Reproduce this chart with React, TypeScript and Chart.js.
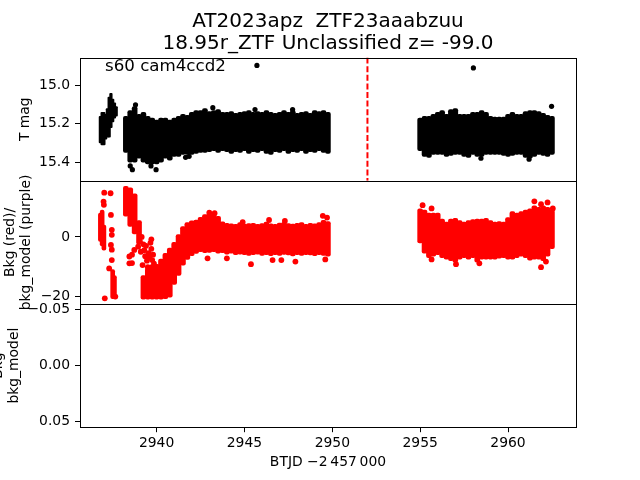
import React, { useEffect, useRef } from "react";
import { Chart, registerables } from "chart.js";

Chart.register(...registerables);

const FONT_FAMILY = '"DejaVu Sans", sans-serif';
const TICK_SIZE = 13.9;

// ---------- text ----------
const TITLE_LINES = ["AT2023apz  ZTF23aaabzuu", "18.95r_ZTF Unclassified z= -99.0"];
const SECTOR_LABEL = "s60 cam4ccd2";
const Y1_LABEL = ["T mag"];
const Y2_LABEL = ["Bkg (red)/", "bkg_model (purple)"];
const Y3_LABEL = ["Bkg", "bkg_model"];
const X_LABEL = "BTJD \u22122\u2009457\u2009000";

// ---------- axes ----------
const X_MIN = 2935.64;
const X_MAX = 2963.87;
const X_TICKS = [2940, 2945, 2950, 2955, 2960];

const Y1_MIN = 14.853;
const Y1_MAX = 15.498;
const Y1_TICKS = [15.0, 15.2, 15.4];

const Y2_MIN = -22.6;
const Y2_MAX = 18.9;
const Y2_TICKS = [0, -20];

const Y3_MIN = -0.055;
const Y3_MAX = 0.055;
const Y3_TICKS = [-0.05, 0, 0.05];

const VLINE_DAY = 2952.0;

// ---------- time bins (days) for the dense bands ----------
const BIN_DAY = [
  2938.25, 2938.5, 2938.75, 2939, 2939.25, 2939.5, 2939.75, 2940, 2940.25, 2940.5,
  2940.75, 2941, 2941.25, 2941.5, 2941.75, 2942, 2942.25, 2942.5, 2942.75, 2943,
  2943.25, 2943.5, 2943.75, 2944, 2944.25, 2944.5, 2944.75, 2945, 2945.25, 2945.5,
  2945.75, 2946, 2946.25, 2946.5, 2946.75, 2947, 2947.25, 2947.5, 2947.75, 2948,
  2948.25, 2948.5, 2948.75, 2949, 2949.25, 2949.5, 2949.75,
  2955, 2955.25, 2955.5, 2955.75, 2956, 2956.25, 2956.5, 2956.75, 2957, 2957.25,
  2957.5, 2957.75, 2958, 2958.25, 2958.5, 2958.75, 2959, 2959.25, 2959.5, 2959.75,
  2960, 2960.25, 2960.5, 2960.75, 2961, 2961.25, 2961.5, 2961.75, 2962, 2962.25, 2962.5,
];

// ---------- panel 1: T mag band (bright edge / faint edge) ----------
const MAG_BIN_BRIGHT = [
  15.16, 15.13, 15.11, 15.15, 15.14, 15.16, 15.17, 15.18, 15.17, 15.17,
  15.18, 15.17, 15.16, 15.15, 15.155, 15.14, 15.13, 15.13, 15.12, 15.135,
  15.13, 15.125, 15.14, 15.14, 15.135, 15.145, 15.14, 15.135, 15.13, 15.14,
  15.135, 15.14, 15.13, 15.14, 15.145, 15.14, 15.13, 15.14, 15.13, 15.145,
  15.14, 15.135, 15.145, 15.13, 15.135, 15.13, 15.14,
  15.17, 15.16, 15.16, 15.15, 15.14, 15.13, 15.15, 15.125, 15.12, 15.15,
  15.15, 15.15, 15.14, 15.14, 15.13, 15.14, 15.16, 15.165, 15.165, 15.165,
  15.15, 15.14, 15.15, 15.15, 15.135, 15.13, 15.13, 15.135, 15.145, 15.155, 15.16,
];
const MAG_BIN_FAINT = [
  15.35, 15.40, 15.40, 15.38, 15.40, 15.41, 15.41, 15.41, 15.40, 15.38,
  15.39, 15.37, 15.37, 15.36, 15.36, 15.36, 15.355, 15.35, 15.35, 15.345,
  15.34, 15.35, 15.34, 15.345, 15.355, 15.345, 15.35, 15.34, 15.355, 15.345,
  15.35, 15.34, 15.355, 15.36, 15.345, 15.35, 15.34, 15.355, 15.345, 15.35,
  15.34, 15.355, 15.345, 15.35, 15.34, 15.35, 15.355,
  15.34, 15.37, 15.375, 15.36, 15.36, 15.36, 15.37, 15.365, 15.36, 15.36,
  15.37, 15.375, 15.36, 15.37, 15.37, 15.36, 15.36, 15.36, 15.36, 15.365,
  15.37, 15.365, 15.36, 15.36, 15.375, 15.38, 15.37, 15.36, 15.365, 15.37, 15.36,
];

const MAG_BLOB_DAY = [2936.8, 2936.9, 2937.0, 2937.1, 2937.2, 2937.3, 2937.4, 2937.5, 2937.6, 2937.7];
const MAG_BLOB_BRIGHT = [15.16, 15.14, 15.14, 15.15, 15.12, 15.06, 15.04, 15.07, 15.09, 15.11];
const MAG_BLOB_FAINT = [15.30, 15.31, 15.31, 15.28, 15.27, 15.27, 15.22, 15.19, 15.17, 15.16];

const MAG_PT_DAY = [
  2945.71, 2958.03, 2962.48, 2941.65, 2941.85, 2938.5, 2938.62, 2939.68, 2939.97,
  2945.6, 2947.74, 2958.46, 2961.2, 2938.8, 2943.2,
];
const MAG_PT_MAG = [
  14.894, 14.907, 15.108, 15.375, 15.37, 15.42, 15.44, 15.42, 15.44,
  15.125, 15.125, 15.38, 15.385, 15.10, 15.115,
];

// ---------- panel 2: background (high edge / low edge) ----------
const BKG_BIN_HI = [
  17.0, 16.5, 14.5, 5.5, -13.0, -10.5, -9.3, -9.2, -7.5, -5.5,
  -3.8, -1.8, 0.8, 3.5, 4.8, 5.4, 5.7, 6.6, 7.5, 8.0,
  7.6, 6.9, 5.1, 4.6, 4.4, 4.2, 4.8, 4.3, 4.5, 4.6,
  4.2, 4.5, 5.0, 4.4, 4.2, 4.7, 4.9, 4.5, 4.3, 4.6,
  4.8, 4.2, 4.6, 4.4, 4.8, 5.6, 5.2,
  9.5, 9.0, 8.0, 8.0, 8.0, 6.0, 5.0, 6.0, 6.3, 5.5,
  5.0, 5.5, 5.8, 6.0, 6.0, 6.3, 5.5, 5.0, 5.2, 5.0,
  6.5, 8.5, 8.0, 8.5, 9.0, 9.5, 10.5, 10.0, 10.5, 10.0, 9.0,
];
const BKG_BIN_LO = [
  7.0, 3.5, 1.0, -2.5, -21.0, -21.0, -21.0, -21.0, -21.0, -20.8,
  -20.3, -16.0, -13.0, -9.5, -7.6, -6.3, -5.6, -5.0, -5.3, -5.2,
  -5.0, -5.5, -5.3, -5.8, -5.5, -6.0, -5.8, -6.0, -6.2, -6.0,
  -5.8, -6.2, -6.0, -6.3, -6.0, -6.2, -5.9, -6.1, -6.4, -6.0,
  -6.2, -6.0, -6.1, -6.3, -6.0, -6.2, -6.5,
  -2.0, -5.5, -7.0, -6.5, -6.0, -7.0, -7.5, -8.0, -8.5, -7.5,
  -7.0, -7.5, -7.0, -8.5, -7.5, -7.5, -7.5, -7.5, -7.2, -7.0,
  -7.5, -7.5, -7.0, -6.5, -7.0, -7.8, -7.5, -7.5, -8.0, -6.5, -4.0,
];

const BKG_BLOB_DAY = [2936.8, 2936.9, 2937.0, 2937.5, 2937.6];
const BKG_BLOB_HI = [8.0, 9.0, 4.0, -11.0, -13.0];
const BKG_BLOB_LO = [-1.5, -3.0, -4.5, -20.8, -20.5];

const BKG_PT_DAY = [
  2937.02, 2937.38, 2936.98, 2937.0, 2937.4, 2937.45, 2937.45, 2937.4, 2937.45, 2937.45,
  2937.3, 2937.05, 2937.65,
  2938.45, 2938.45, 2938.73, 2938.95, 2939.05, 2939.1, 2939.15, 2939.2, 2939.25, 2939.3,
  2939.35, 2939.4, 2939.45, 2939.5, 2939.55, 2939.6, 2939.65, 2939.7, 2939.7, 2939.75,
  2939.8, 2939.8, 2939.85, 2939.6, 2938.6, 2938.6,
  2942.9, 2944.0, 2945.37, 2946.6, 2947.1, 2947.9, 2949.6, 2946.4, 2949.46, 2949.7,
  2944.9, 2947.3, 2943.0, 2943.3,
  2955.14, 2955.65, 2961.5, 2961.88, 2962.25, 2962.55, 2961.88, 2962.16, 2957.04, 2958.37,
  2955.65,
];
const BKG_PT_VAL = [
  14.9, 14.7, 11.9, 10.8, 7.4, 2.4, 0.7, -2.7, -4.3, -7.8,
  -10.6, -20.7, -20.1,
  -6.6, -8.9, -4.4, -3.3, -1.5, -5.0, 0.0, -9.5, -2.5, -4.5,
  -6.5, -3.0, -8.0, -10.2, -5.5, -7.0, -2.0, -0.8, -4.0, -7.8,
  -11.1, -6.0, -9.0, -11.7, -6.0, -8.8,
  -7.2, -7.2, -9.2, -7.8, -7.8, -8.3, -7.6, 5.7, 7.1, 6.5,
  5.0, 5.4, 8.2, 8.0,
  10.7, 9.6, 12.0, 11.0, 11.6, 9.6, -10.2, -8.3, -9.2, -8.9,
  -7.6,
];

// ---------- layout ----------
const PANEL_LEFT = 80;
const PANEL_RIGHT = 576;
const PANEL_TOPS = [57.6, 180.8, 304];
const PANEL_BOTTOMS = [180.8, 304, 427.2];
const X_AXIS_H = 40;

const font = (size: number) => ({ family: FONT_FAMILY, size });
const minus = (s: string) => s.replace("-", "\u2212");

const bandData = (days: number[], a: number[], b: number[]) =>
  days.map((d, i) => ({ x: d, y: [b[i], a[i]] }));
const ptData = (days: number[], v: number[]) => days.map((d, i) => ({ x: d, y: v[i] }));

function xScale(show: boolean) {
  return {
    type: "linear",
    min: X_MIN,
    max: X_MAX,
    offset: false,
    display: show,
    afterBuildTicks: (s: any) => {
      s.ticks = X_TICKS.map((v) => ({ value: v }));
    },
    afterFit: (s: any) => {
      if (show) s.height = X_AXIS_H;
    },
    ticks: {
      autoSkip: false,
      maxRotation: 0,
      color: "#000",
      font: font(TICK_SIZE),
      padding: 3,
      callback: (v: any) => String(v),
    },
    grid: {
      display: true,
      drawOnChartArea: false,
      drawTicks: true,
      tickLength: 5,
      color: "#000",
      lineWidth: 1,
      offset: false,
    },
    border: { display: false },
  };
}

function yScale(min: number, max: number, reverse: boolean, ticks: number[], fmt: (v: number) => string) {
  return {
    type: "linear",
    min,
    max,
    reverse,
    afterBuildTicks: (s: any) => {
      s.ticks = ticks.map((v) => ({ value: v }));
    },
    afterFit: (s: any) => {
      s.width = PANEL_LEFT;
    },
    ticks: {
      autoSkip: false,
      color: "#000",
      font: font(TICK_SIZE),
      padding: 5,
      callback: (v: any) => fmt(Number(v)),
    },
    grid: {
      display: true,
      drawOnChartArea: false,
      drawTicks: true,
      tickLength: 5,
      color: "#000",
      lineWidth: 1,
    },
    border: { display: false },
  };
}

const framePlugin = {
  id: "frame",
  afterDraw(chart: any) {
    const { ctx, chartArea: a } = chart;
    ctx.save();
    ctx.strokeStyle = "#000";
    ctx.lineWidth = 1;
    const l = Math.round(a.left) + 0.5;
    const r = Math.round(a.right) + 0.5;
    const t = Math.round(a.top) + 0.5;
    const b = Math.round(a.bottom) + 0.5;
    ctx.strokeRect(l, t, r - l, b - t);
    ctx.restore();
  },
};

function drawRotated(ctx: CanvasRenderingContext2D, lines: string[], baselines: number[], cy: number) {
  lines.forEach((line, i) => {
    ctx.save();
    ctx.translate(baselines[i], cy);
    ctx.rotate(-Math.PI / 2);
    ctx.textAlign = "center";
    ctx.textBaseline = "alphabetic";
    ctx.fillText(line, 0, 0);
    ctx.restore();
  });
}

const textPlugin = {
  id: "texts",
  afterDraw(chart: any) {
    const ctx: CanvasRenderingContext2D = chart.ctx;
    const cx = (PANEL_LEFT + PANEL_RIGHT) / 2;
    ctx.save();
    ctx.fillStyle = "#000";
    ctx.font = `20px ${FONT_FAMILY}`;
    ctx.textAlign = "center";
    ctx.textBaseline = "alphabetic";
    ctx.fillText(TITLE_LINES[0], cx, 26.7);
    ctx.fillText(TITLE_LINES[1], cx, 49);

    ctx.font = `16.67px ${FONT_FAMILY}`;
    ctx.textAlign = "left";
    ctx.fillText(SECTOR_LABEL, 105, 70.5);

    ctx.font = `${TICK_SIZE}px ${FONT_FAMILY}`;
    ctx.textAlign = "center";
    ctx.fillText(X_LABEL, cx, 466);

    drawRotated(ctx, Y1_LABEL, [28.5], (PANEL_TOPS[0] + PANEL_BOTTOMS[0]) / 2);
    drawRotated(ctx, Y2_LABEL, [14, 30.2], (PANEL_TOPS[1] + PANEL_BOTTOMS[1]) / 2);
    drawRotated(ctx, Y3_LABEL, [1.8, 18], (PANEL_TOPS[2] + PANEL_BOTTOMS[2]) / 2);
    ctx.restore();
  },
};

function baseOptions(panel: number, showX: boolean, y: any) {
  return {
    responsive: false,
    animation: false,
    devicePixelRatio: 1,
    events: [],
    layout: {
      padding: {
        left: 0,
        right: 640 - PANEL_RIGHT,
        top: PANEL_TOPS[panel],
        bottom: 480 - PANEL_BOTTOMS[panel] - (showX ? X_AXIS_H : 0),
      },
    },
    plugins: { legend: { display: false }, title: { display: false }, tooltip: { enabled: false } },
    scales: { x: xScale(showX), y },
  };
}

const BAR_STYLE = {
  borderWidth: 0,
  borderRadius: 2,
  borderSkipped: false,
  grouped: false,
};

function config1(): any {
  return {
    type: "scatter",
    data: {
      datasets: [
        {
          type: "line",
          data: [
            { x: VLINE_DAY, y: Y1_MIN },
            { x: VLINE_DAY, y: Y1_MAX },
          ],
          borderColor: "#ff0000",
          borderWidth: 2,
          borderDash: [6, 2.6],
          pointRadius: 0,
          fill: false,
        },
        {
          type: "scatter",
          data: ptData(MAG_PT_DAY, MAG_PT_MAG),
          backgroundColor: "#000",
          borderWidth: 0,
          pointRadius: 2.6,
        },
        {
          type: "bar",
          data: bandData(BIN_DAY, MAG_BIN_BRIGHT, MAG_BIN_FAINT),
          backgroundColor: "#000",
          barThickness: 5,
          ...BAR_STYLE,
        },
        {
          type: "bar",
          data: bandData(MAG_BLOB_DAY, MAG_BLOB_BRIGHT, MAG_BLOB_FAINT),
          backgroundColor: "#000",
          barThickness: 2.6,
          ...BAR_STYLE,
          borderRadius: 1,
        },
      ],
    },
    options: baseOptions(0, false, yScale(Y1_MIN, Y1_MAX, true, Y1_TICKS, (v) => v.toFixed(1))),
    plugins: [framePlugin],
  };
}

function config2(): any {
  return {
    type: "scatter",
    data: {
      datasets: [
        {
          type: "scatter",
          data: ptData(BKG_PT_DAY, BKG_PT_VAL),
          backgroundColor: "#ff0000",
          borderWidth: 0,
          pointRadius: 2.9,
        },
        {
          type: "bar",
          data: bandData(BIN_DAY, BKG_BIN_HI, BKG_BIN_LO),
          backgroundColor: "#ff0000",
          barThickness: 5,
          ...BAR_STYLE,
        },
        {
          type: "bar",
          data: bandData(BKG_BLOB_DAY, BKG_BLOB_HI, BKG_BLOB_LO),
          backgroundColor: "#ff0000",
          barThickness: 4,
          ...BAR_STYLE,
        },
      ],
    },
    options: baseOptions(1, false, yScale(Y2_MIN, Y2_MAX, false, Y2_TICKS, (v) => minus(String(Math.round(v))))),
    plugins: [framePlugin],
  };
}

function config3(): any {
  return {
    type: "scatter",
    data: { datasets: [{ type: "scatter", data: [], pointRadius: 0 }] },
    options: baseOptions(2, true, yScale(Y3_MIN, Y3_MAX, true, Y3_TICKS, (v) => minus(v.toFixed(2)))),
    plugins: [framePlugin, textPlugin],
  };
}

export default function App() {
  const r1 = useRef<HTMLCanvasElement>(null);
  const r2 = useRef<HTMLCanvasElement>(null);
  const r3 = useRef<HTMLCanvasElement>(null);

  useEffect(() => {
    const charts = [
      new Chart(r1.current as HTMLCanvasElement, config1()),
      new Chart(r2.current as HTMLCanvasElement, config2()),
      new Chart(r3.current as HTMLCanvasElement, config3()),
    ];
    return () => charts.forEach((c) => c.destroy());
  }, []);

  const style: React.CSSProperties = { position: "absolute", left: 0, top: 0 };
  return (
    <div style={{ position: "absolute", left: 0, top: 0, width: 640, height: 480, background: "#fff" }}>
      <canvas ref={r1} width={640} height={480} style={style} />
      <canvas ref={r2} width={640} height={480} style={style} />
      <canvas ref={r3} width={640} height={480} style={style} />
    </div>
  );
}
